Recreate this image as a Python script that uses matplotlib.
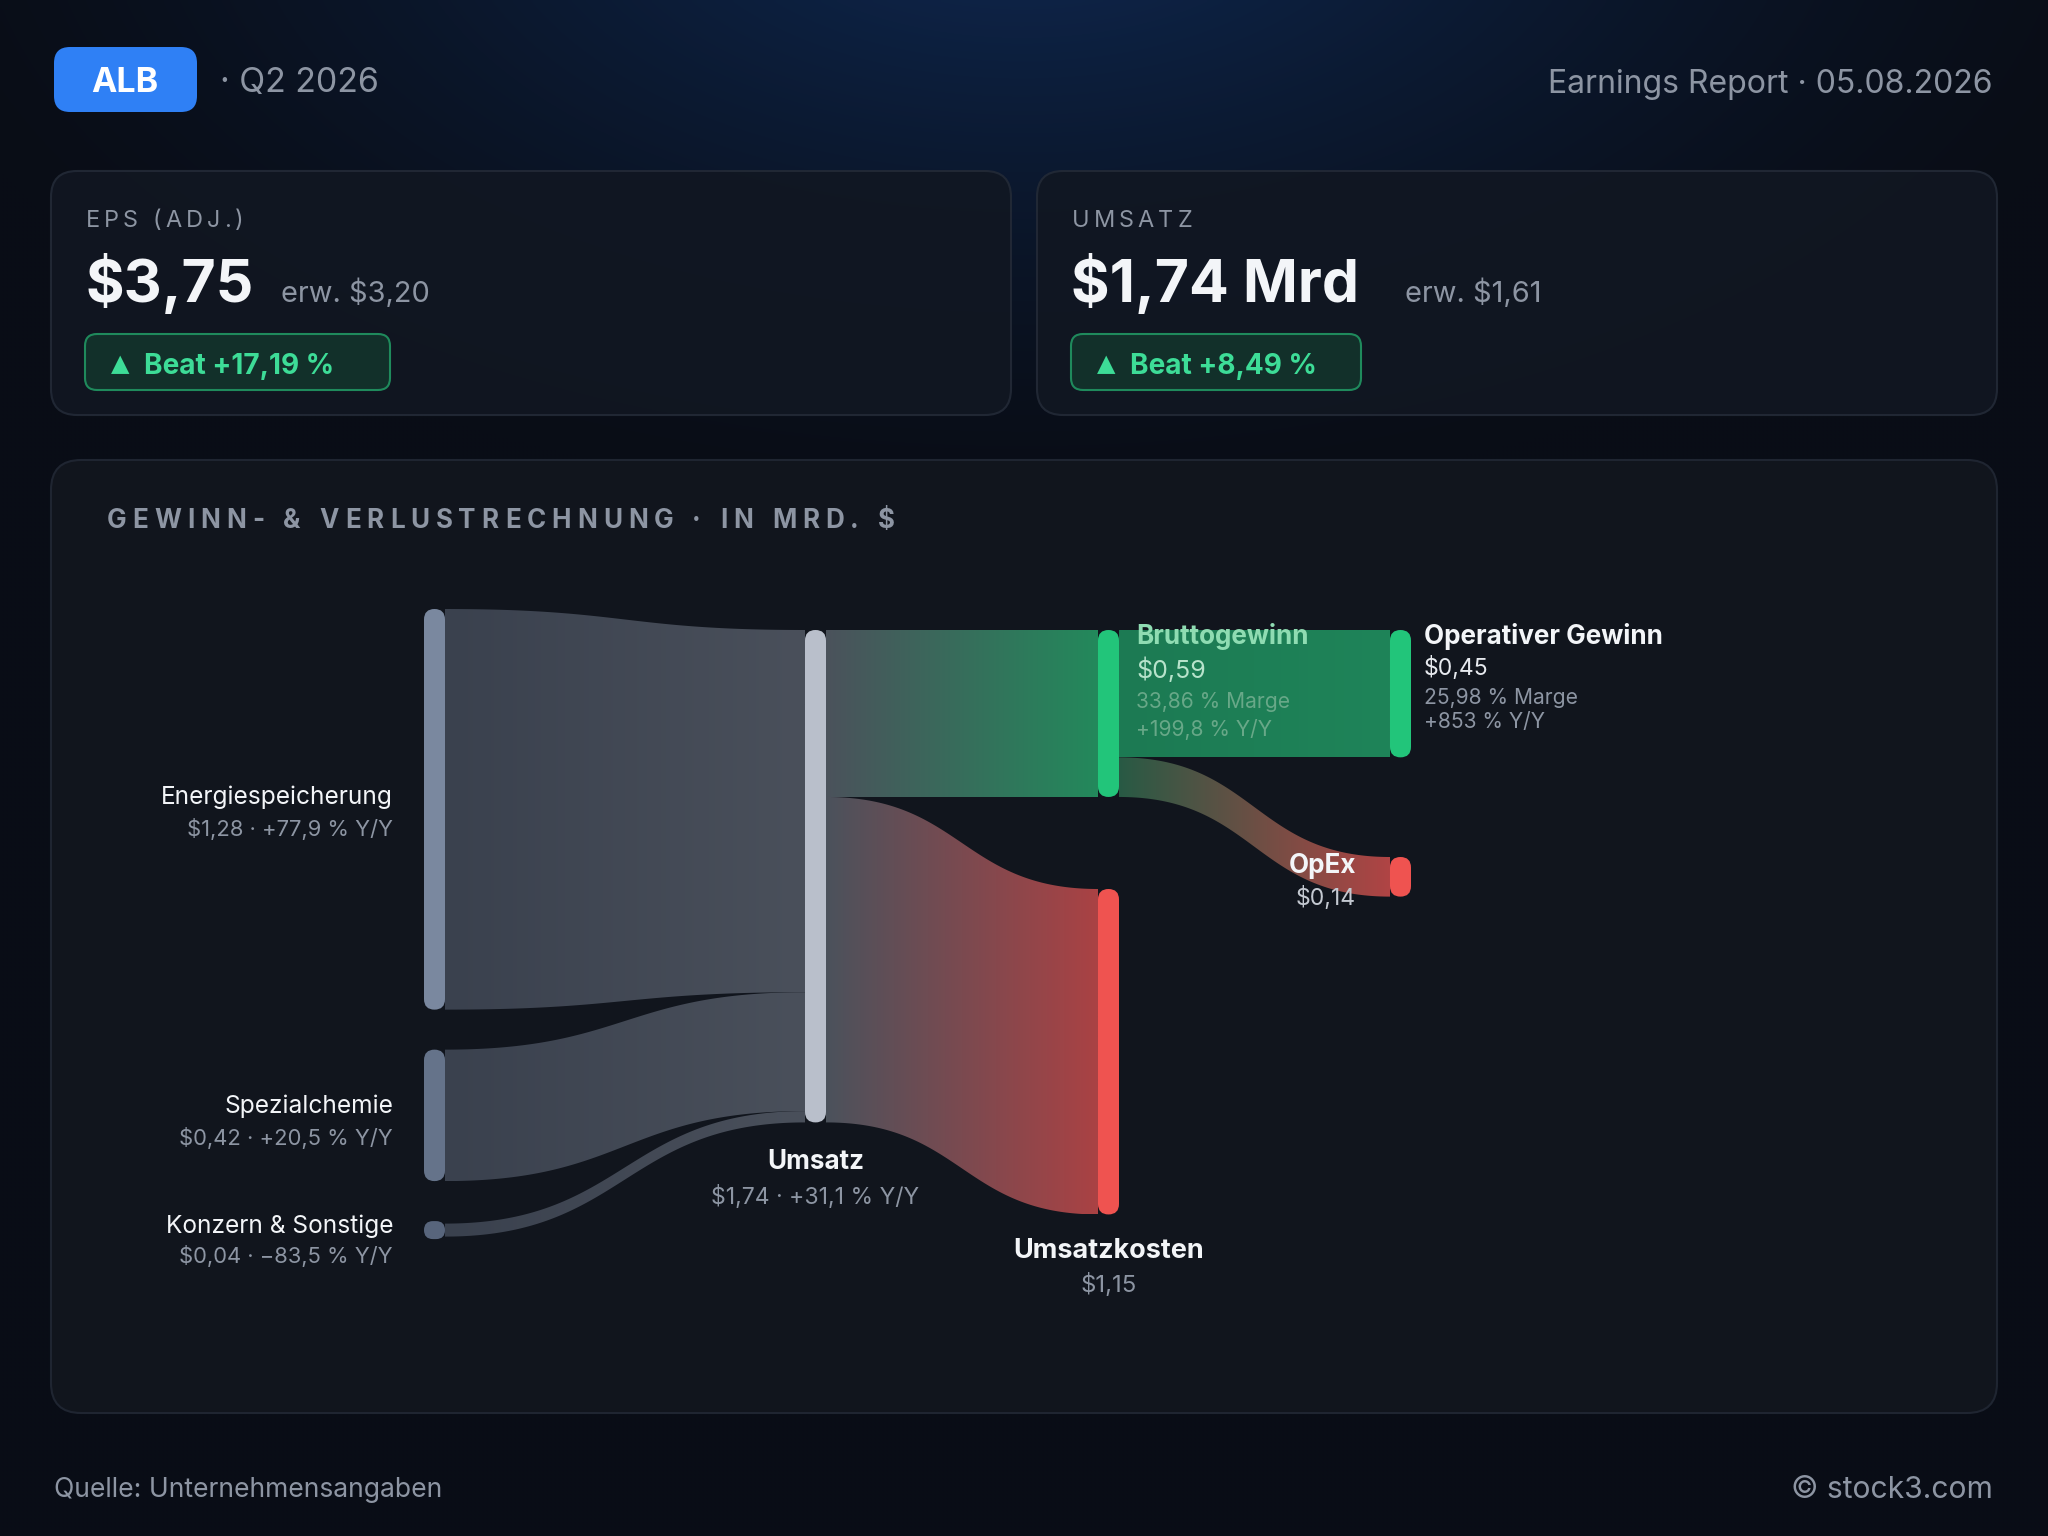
import matplotlib
matplotlib.use('Agg')
import matplotlib.pyplot as plt
import numpy as np
from matplotlib.patches import FancyBboxPatch, Polygon
from matplotlib.colors import to_rgb

plt.rcParams['font.family'] = ['Inter', 'DejaVu Sans']

# ---- data ----
ticker = 'ALB'
quarter = 'Q2 2026'
report_date = '05.08.2026'
eps_actual, eps_est, eps_beat = '$3,75', '$3,20', '+17,19 %'
rev_actual, rev_est, rev_beat = '$1,74 Mrd', '$1,61', '+8,49 %'

segments = ['Energiespeicherung', 'Spezialchemie', 'Konzern & Sonstige']
segment_values = [1.28, 0.42, 0.04]
segment_yoy = ['+77,9 %', '+20,5 %', '\u221283,5 %']
revenue, revenue_yoy = 1.74, '+31,1 %'
gross_profit, gross_margin, gross_yoy = 0.59, '33,86 %', '+199,8 %'
cost_of_revenue = 1.15
op_income, op_margin, op_yoy = 0.45, '25,98 %', '+853 %'
opex = 0.14

W, H = 2048, 1536
fig = plt.figure(figsize=(W / 100, H / 100), dpi=100)
ax = fig.add_axes([0, 0, 1, 1])
ax.set_xlim(0, W)
ax.set_ylim(H, 0)
ax.axis('off')


def px(v):
    return v * 0.72


def money(v):
    return ('$%.2f' % v).replace('.', ',')


WHITE = '#f3f5f8'
GRAY = '#8d95a3'
GREEN = '#22c57a'
RED = '#ef5350'

# background with blue glow at top
gy, gx = np.mgrid[0:384, 0:512]
X = gx / 512 * W
Y = gy / 384 * H
d = np.sqrt(((X - 1020) / 1150) ** 2 + ((Y + 120) / 620) ** 2)
glow = np.clip(1 - d, 0, 1) ** 1.4
base = np.array(to_rgb('#090d16'))
glowc = np.array(to_rgb('#0f2a55'))
bg = base + (glowc - base) * glow[..., None]
ax.imshow(bg, extent=(0, W, H, 0), aspect='auto', zorder=0, interpolation='bilinear')


def rbox(x, y, w, h, r, fc, ec='none', lw=0, alpha=1.0, z=1):
    p = FancyBboxPatch((x, y), w, h, boxstyle='round,pad=0,rounding_size=%g' % r,
                       facecolor=fc, edgecolor=ec, linewidth=lw, alpha=alpha, zorder=z)
    ax.add_patch(p)
    return p


def spaced(x, y, s, spacing, **kw):
    r = fig.canvas.get_renderer()
    for ch in s:
        if ch == ' ':
            x += kw['fontsize'] / 0.72 * 0.28 + spacing
            continue
        t = ax.text(x, y, ch, ha='left', **kw)
        x += t.get_window_extent(r).width + spacing


# ---- header ----
rbox(54, 47, 143, 65, 16, '#2f80f5', z=2)
ax.text(125, 83, ticker, color='white', fontsize=px(34), fontweight='bold',
        ha='center', va='center', zorder=3)
ax.text(220, 83, '\u00b7 ' + quarter, color=GRAY, fontsize=px(34),
        ha='left', va='center', zorder=3)
ax.text(1993, 84, 'Earnings Report \u00b7 ' + report_date, color=GRAY, fontsize=px(32),
        ha='right', va='center', zorder=3)

# ---- KPI cards ----
cards = [
    (51, 'EPS (ADJ.)', eps_actual, eps_est, eps_beat, 281, 305),
    (1037, 'UMSATZ', rev_actual, rev_est, rev_beat, 1405, 290),
]
for cx, lab, val, est, beat, est_x, badge_w in cards:
    rbox(cx, 171, 960, 244, 26, '#111722', ec='#232a37', lw=1.5, alpha=0.9, z=1)
    spaced(cx + 35, 221, lab, 4.0, color=GRAY, fontsize=px(23.5), va='center', zorder=3)
    ax.text(cx + 34, 283, val, color=WHITE, fontsize=px(59), fontweight='bold',
            ha='left', va='center', zorder=3)
    ax.text(est_x, 293, 'erw. ' + est, color=GRAY, fontsize=px(29),
            ha='left', va='center', zorder=3)
    rbox(cx + 34, 334, badge_w, 56, 12, '#12302a', ec='#1f8a5c', lw=1.5, z=2)
    ax.text(cx + 60, 364, '\u25b2', color='#3ddc97', fontsize=px(24),
            family=['DejaVu Sans'], ha='left', va='center', zorder=3)
    ax.text(cx + 93, 366, 'Beat ' + beat, color='#3ddc97', fontsize=px(28),
            fontweight='bold', ha='left', va='center', zorder=3)

# ---- P&L panel ----
rbox(51, 460, 1946, 953, 30, '#11151d', ec='#1f2531', lw=1.5, z=1)
spaced(107, 521, 'GEWINN- & VERLUSTRECHNUNG \u00b7 IN MRD. $', 5.9,
       color=GRAY, fontsize=px(26), fontweight='bold', va='center', zorder=3)

# sankey geometry (pixels per unit of value)
K_L = 313
K = 283
NW = 21
x_src, x_rev, x_mid, x_out = 424, 805, 1098, 1390


def node(x, top, h, color):
    rbox(x, top, NW, h, min(NW / 2, h / 2), color, z=5)


def band(xa, xb, ta, ba, tb, bb, c0, c1, z=3):
    t = np.linspace(0, 1, 120)
    xm = (xa + xb) / 2
    bx = (1 - t) ** 3 * xa + 3 * (1 - t) ** 2 * t * xm + 3 * (1 - t) * t ** 2 * xm + t ** 3 * xb
    e = 3 * t ** 2 - 2 * t ** 3
    top = ta + (tb - ta) * e
    bot = ba + (bb - ba) * e
    verts = np.vstack([np.column_stack([bx, top]), np.column_stack([bx[::-1], bot[::-1]])])
    poly = Polygon(verts, closed=True, facecolor='none', edgecolor='none')
    ax.add_patch(poly)
    g = np.linspace(0, 1, 256)[:, None]
    cols = np.array(to_rgb(c0)) * (1 - g) + np.array(to_rgb(c1)) * g
    im = ax.imshow(cols[None, :, :], extent=(xa, xb, max(bot.max(), top.max()), min(top.min(), bot.min())),
                   aspect='auto', interpolation='bilinear', zorder=z)
    im.set_clip_path(poly)


# left column: segments
seg_gap = 40
seg_colors = ['#7a889f', '#65738a', '#58657c']
label_dy = [(-12, 20), (-9, 23), (5, 35)]
y = 609
rev_y = 630
for name, v, yoy, col, (d1, d2) in zip(segments, segment_values, segment_yoy, seg_colors, label_dy):
    h = max(v * K_L, 18)
    hv = v * K
    node(x_src, y, h, col)
    bt = y + (h - max(v * K_L, 13)) / 2
    band(x_src + NW, x_rev, bt, bt + max(v * K_L, 13), rev_y, rev_y + hv, '#3a414e', '#4a505b')
    cy = y + h / 2 if v > 0.1 else y
    ax.text(393, cy + d1, name, color=WHITE, fontsize=px(24.5),
            ha='right', va='center', zorder=6)
    ax.text(393, cy + d2, money(v) + ' \u00b7 ' + yoy + ' Y/Y', color=GRAY,
            fontsize=px(22), ha='right', va='center', zorder=6)
    y += h + seg_gap
    rev_y += hv

# revenue node
rev_top = 630
rev_h = revenue * K
node(x_rev, rev_top, rev_h, '#b9bfcb')
ax.text(x_rev + NW / 2, 1162, 'Umsatz', color=WHITE, fontsize=px(26), fontweight='bold',
        ha='center', va='center', zorder=6)
ax.text(x_rev + NW / 2, 1197, money(revenue) + ' \u00b7 ' + revenue_yoy + ' Y/Y', color=GRAY,
        fontsize=px(23), ha='center', va='center', zorder=6)

# gross profit and cost of revenue
gp_top = rev_top
gp_h = gross_profit * K
cor_top = 889
cor_h = cost_of_revenue * K
band(x_rev + NW, x_mid, gp_top, gp_top + gp_h, gp_top, gp_top + gp_h, '#4b525c', '#23895b')
band(x_rev + NW, x_mid, gp_top + gp_h, rev_top + rev_h, cor_top, cor_top + cor_h, '#4b525c', '#aa4244')
node(x_mid, gp_top, gp_h, GREEN)
node(x_mid, cor_top, cor_h, RED)

# operating income and opex
oi_h = op_income * K
ox_top = 857
ox_h = opex * K
band(x_mid + NW, x_out, gp_top, gp_top + oi_h, gp_top, gp_top + oi_h, '#1c7a53', '#1f8459', z=3)
band(x_mid + NW, x_out, gp_top + oi_h, gp_top + gp_h, ox_top, ox_top + ox_h, '#285a44', '#b04445', z=3)
node(x_out, gp_top, oi_h, GREEN)
node(x_out, ox_top, ox_h, RED)

# labels right side
lx = 1136
ax.text(lx, 636, 'Bruttogewinn', color='#8fdcb2', fontsize=px(26), fontweight='bold',
        ha='left', va='center', zorder=6)
ax.text(lx, 670, money(gross_profit), color='#b7e3cb', fontsize=px(25), ha='left', va='center', zorder=6)
ax.text(lx, 702, gross_margin + ' Marge', color='#68a888', fontsize=px(21), ha='left', va='center', zorder=6)
ax.text(lx, 729, gross_yoy + ' Y/Y', color='#68a888', fontsize=px(21), ha='left', va='center', zorder=6)

ox = 1424
ax.text(ox, 636, 'Operativer Gewinn', color=WHITE, fontsize=px(26), fontweight='bold',
        ha='left', va='center', zorder=6)
ax.text(ox, 668, money(op_income), color='#e6e9ee', fontsize=px(23), ha='left', va='center', zorder=6)
ax.text(ox, 698, op_margin + ' Marge', color=GRAY, fontsize=px(21), ha='left', va='center', zorder=6)
ax.text(ox, 722, op_yoy + ' Y/Y', color=GRAY, fontsize=px(21), ha='left', va='center', zorder=6)

ax.text(1356, 866, 'OpEx', color=WHITE, fontsize=px(26), fontweight='bold',
        ha='right', va='center', zorder=6)
ax.text(1356, 898, money(opex), color='#c4c9d1', fontsize=px(23), ha='right', va='center', zorder=6)

ax.text(x_mid + NW / 2, 1251, 'Umsatzkosten', color=WHITE, fontsize=px(27), fontweight='bold',
        ha='center', va='center', zorder=6)
ax.text(x_mid + NW / 2, 1285, money(cost_of_revenue), color=GRAY, fontsize=px(24),
        ha='center', va='center', zorder=6)

# ---- footer ----
ax.text(54, 1490, 'Quelle: Unternehmensangaben', color=GRAY, fontsize=px(26.5),
        ha='left', va='center', zorder=3)
ax.text(1993, 1490, '\u00a9 stock3.com', color=GRAY, fontsize=px(30),
        ha='right', va='center', zorder=3)

ax.set_xlim(0, W)
ax.set_ylim(H, 0)
fig.savefig('out.png', dpi=100, facecolor='#090d16')
